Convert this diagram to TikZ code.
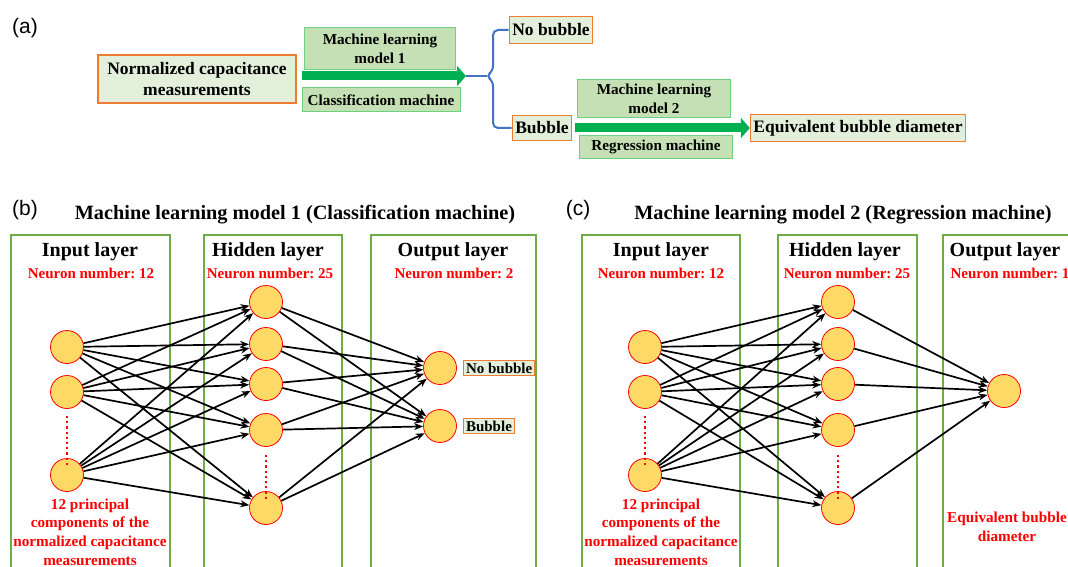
\documentclass[tikz,border=0pt]{standalone}
\usepackage{fontspec}
\setmainfont{Liberation Serif}
\newfontfamily\panelfont{Liberation Sans}
\usepackage{xcolor}
\usetikzlibrary{positioning}
\usetikzlibrary{arrows.meta}
\definecolor{edgeorange}{HTML}{ED7D31}
\definecolor{palegreen}{HTML}{E2EFDA}
\definecolor{mlfill}{HTML}{C5E0B4}
\definecolor{mlborder}{HTML}{6DD27F}
\definecolor{arrowgreen}{HTML}{00B050}
\definecolor{bracketblue}{HTML}{4472C4}
\definecolor{layergreen}{HTML}{70AD47}
\definecolor{neuronfill}{HTML}{FFD966}
\frenchspacing
\newcommand{\fsz}[1]{\fontsize{#1}{1.2\dimexpr#1pt\relax}\selectfont}
\tikzset{resbox/.style={draw=edgeorange, fill=palegreen, line width=1.3pt, inner sep=3pt,
    align=center, font=\bfseries\fsz{17.5}},
  smallres/.style={resbox, inner sep=2.5pt, font=\bfseries\fsz{15}},
  mlbox/.style={draw=mlborder, fill=mlfill, line width=1pt, align=center,
    inner sep=1pt, font=\bfseries\fsz{15.2}},
  bigarrow/.style={draw=arrowgreen, line width=9pt, -{Triangle[length=9pt,width=20pt]}},
  neuron/.style={circle, draw=red, fill=neuronfill, line width=0.8pt, minimum size=33pt, inner sep=0pt},
  layerbox/.style={draw=layergreen, line width=2pt},
  link/.style={line width=1.7pt, -{Stealth[length=9pt,width=7pt]}},
  reddots/.style={draw=red, line width=2.2pt, dash pattern=on 2.2pt off 3pt},
  layertitle/.style={font=\bfseries\fsz{20}},
  redtext/.style={text=red, align=center, font=\bfseries\fsz{15}},
  notetext/.style={redtext, font=\bfseries\fontsize{15.2}{18.7}\selectfont}}

\begin{document}
\begin{tikzpicture}[x=1pt, y=-1pt]
\clip (0,0) rectangle (1068,567);
\fill[white] (0,0) rectangle (1068,567);

% (a) overall flow
\node[font=\panelfont\fsz{21}] (pa) at (25,28) {(a)};
\node[resbox, minimum width=198pt, minimum height=48pt, font=\bfseries\fontsize{17.5}{21}\selectfont] (norm) at (197,79) {Normalized capacitance\\measurements};
\node[mlbox, minimum width=151pt, minimum height=42pt, font=\bfseries\fontsize{15.2}{18.5}\selectfont] (ml1) at (380,49) {Machine learning\\model 1};
\node[mlbox, minimum width=158pt, minimum height=24pt] (cls) at (381,100) {Classification machine};
\coordinate (a1s) at (302,76);
\coordinate (a1e) at (466,76);
\draw[bigarrow] (a1s) -- (a1e);
\node[resbox, minimum height=27pt] (nob) at (551,30) {No bubble};
\node[resbox, minimum height=25pt] (bub) at (542,128) {Bubble};
\draw[bracketblue, line width=2pt, rounded corners=5pt] (nob.west) -- (493,30) -- (493,71) -- (486,76) -- (493,81) -- (493,128) -- (bub.west);
\draw[bracketblue, line width=2pt] (a1e) -- (487,76);
\node[mlbox, minimum width=153pt, minimum height=38pt, font=\bfseries\fontsize{15.2}{18.5}\selectfont] (ml2) at (654,99) {Machine learning\\model 2};
\node[mlbox, minimum width=153pt, minimum height=22pt] (reg) at (656,147) {Regression machine};
\node[resbox, minimum height=27pt] (equiv) at (858,128) {Equivalent bubble diameter};
\draw[bigarrow] (bub.east) ++(3,0) -- (equiv.west);

% (b) classification network
\node[font=\panelfont\fsz{21}] (pb) at (25,210) {(b)};
\node[font=\bfseries\fsz{20.3}] (btitle) at (295,215) {Machine learning model 1 (Classification machine)};
\draw[layerbox] (11,235) rectangle (170,600);
\draw[layerbox] (204,235) rectangle (342,600);
\draw[layerbox] (371,235) rectangle (536,600);
\node[layertitle] (bintitle) at (90,252) {Input layer};
\node[redtext] (binnum) at (91,273) {Neuron number: 12};
\node[layertitle] (bhidtitle) at (268,252) {Hidden layer};
\node[redtext] (bhidnum) at (270,273) {Neuron number: 25};
\node[layertitle] (bouttitle) at (453,252) {Output layer};
\node[redtext] (boutnum) at (454,273) {Neuron number: 2};
\node[neuron] (bin1) at (67,347) {};
\node[neuron] (bin2) at (67,392) {};
\node[neuron] (bin3) at (67,475) {};
\node[neuron] (bhid1) at (266,302) {};
\node[neuron] (bhid2) at (266,344) {};
\node[neuron] (bhid3) at (266,384) {};
\node[neuron] (bhid4) at (266,430) {};
\node[neuron] (bhid5) at (266,508) {};
\node[neuron] (bout1) at (440,368) {};
\node[neuron] (bout2) at (440,426) {};
\node[smallres, right=6pt of bout1] (bnob) {No bubble};
\node[smallres, right=6pt of bout2] (bbub) {Bubble};
\draw[reddots] (bin2.south) ++(0,7) -- ([yshift=-7pt]bin3.north);
\draw[reddots] (bhid4.south) ++(0,8) -- ([yshift=-8pt]bhid5.north);
\foreach \i in {1,2,3}{
  \foreach \j in {1,...,5}{
    \draw[link] (bin\i) -- (bhid\j);
  }
}
\foreach \j in {1,...,5}{
  \draw[link] (bhid\j) -- (bout1);
  \draw[link] (bhid\j) -- (bout2);
}
\node[notetext] (binnote) at (90,532) {12 principal\\components of the\\normalized capacitance\\measurements};

% (c) regression network
\node[font=\panelfont\fsz{21}] (pc) at (578,210) {(c)};
\node[font=\bfseries\fsz{20.3}] (ctitle) at (843,215) {Machine learning model 2 (Regression machine)};
\draw[layerbox] (582,235) rectangle (740,600);
\draw[layerbox] (778,235) rectangle (917,600);
\draw[layerbox] (943,235) rectangle (1100,600);
\node[layertitle] (cintitle) at (661,252) {Input layer};
\node[redtext] (cinnum) at (661,273) {Neuron number: 12};
\node[layertitle] (chidtitle) at (845,252) {Hidden layer};
\node[redtext] (chidnum) at (847,273) {Neuron number: 25};
\node[layertitle] (couttitle) at (1005,252) {Output layer};
\node[redtext] (coutnum) at (1010,273) {Neuron number: 1};
\node[neuron] (cin1) at (645,347) {};
\node[neuron] (cin2) at (645,392) {};
\node[neuron] (cin3) at (645,475) {};
\node[neuron] (chid1) at (838,302) {};
\node[neuron] (chid2) at (838,344) {};
\node[neuron] (chid3) at (838,384) {};
\node[neuron] (chid4) at (838,430) {};
\node[neuron] (chid5) at (838,508) {};
\node[neuron] (cout) at (1004,391) {};
\draw[reddots] (cin2.south) ++(0,7) -- ([yshift=-7pt]cin3.north);
\draw[reddots] (chid4.south) ++(0,8) -- ([yshift=-8pt]chid5.north);
\foreach \i in {1,2,3}{
  \foreach \j in {1,...,5}{
    \draw[link] (cin\i) -- (chid\j);
  }
}
\foreach \j in {1,...,5}{
  \draw[link] (chid\j) -- (cout);
}
\node[notetext] (cinnote) at (661,532) {12 principal\\components of the\\normalized capacitance\\measurements};
\node[notetext] (coutnote) at (1007,527) {Equivalent bubble\\diameter};
\end{tikzpicture}
\end{document}
